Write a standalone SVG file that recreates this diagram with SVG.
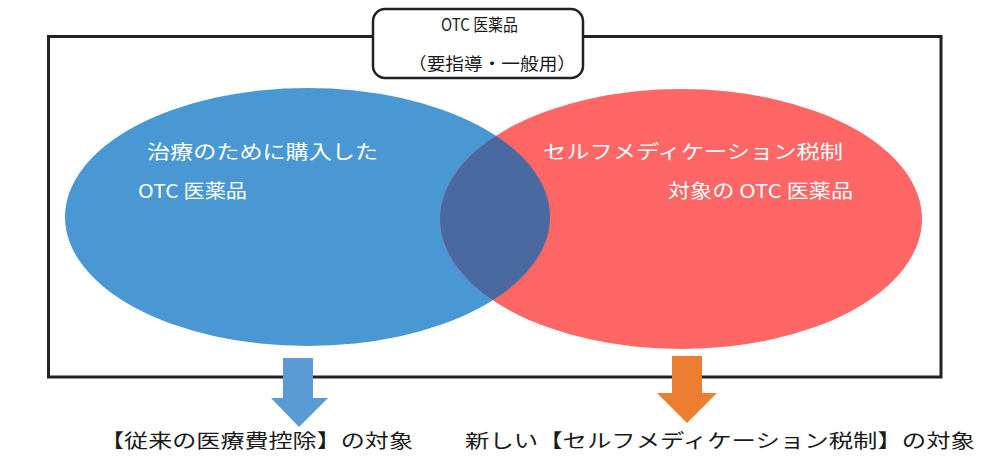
<svg xmlns="http://www.w3.org/2000/svg" width="999" height="470" viewBox="0 0 999 470">
<style>
.t{font-family:"Noto Sans CJK JP","Noto Sans CJK SC",sans-serif;}
.w{fill:#ffffff;font-size:19px;}
.k{fill:#1a1a1a;font-size:19px;}
.s{fill:#1a1a1a;font-size:17px;}
</style>
<defs>
<clipPath id="redclip"><ellipse cx="681" cy="219" rx="241" ry="130"/></clipPath>
</defs>
<rect x="48.5" y="36.5" width="892.5" height="340.5" fill="#ffffff" stroke="#222222" stroke-width="3"/>
<g id="blue-set">
<ellipse cx="307.5" cy="217" rx="242.5" ry="129" fill="#4a98d3"/>
</g>
<g id="red-set">
<ellipse cx="681" cy="219" rx="241" ry="130" fill="#ff6666"/>
</g>
<g id="overlap">
<ellipse cx="307.5" cy="217" rx="242.5" ry="129" fill="#4a69a1" clip-path="url(#redclip)"/>
</g>
<g id="label">
<rect x="373" y="9" width="210" height="69" rx="12" ry="12" fill="#ffffff" stroke="#222222" stroke-width="2.5"/>
<text class="t s" x="441" y="31" textLength="77" lengthAdjust="spacingAndGlyphs">OTC 医薬品</text>
<text class="t s" x="408" y="70" textLength="168" lengthAdjust="spacingAndGlyphs">（要指導・一般用）</text>
</g>
<g id="blue-text">
<text class="t w" x="147" y="159" textLength="231" lengthAdjust="spacingAndGlyphs">治療のために購入した</text>
<text class="t w" x="138" y="198" textLength="109" lengthAdjust="spacingAndGlyphs">OTC 医薬品</text>
</g>
<g id="red-text">
<text class="t w" x="543" y="159" textLength="300" lengthAdjust="spacingAndGlyphs">セルフメディケーション税制</text>
<text class="t w" x="668" y="198" textLength="185" lengthAdjust="spacingAndGlyphs">対象の OTC 医薬品</text>
</g>
<g id="connectors">
<polygon points="283,358 313,358 313,398 328,398 299,427 271,398 283,398" fill="#5b9bd5"/>
<polygon points="672,356 702,356 702,393 717,393 687,423 657,393 672,393" fill="#ed7d31"/>
</g>
<g id="bottom-left">
<text class="t k" x="100" y="448" textLength="313" lengthAdjust="spacingAndGlyphs">【従来の医療費控除】の対象</text>
</g>
<g id="bottom-right">
<text class="t k" x="465" y="448" textLength="510" lengthAdjust="spacingAndGlyphs">新しい【セルフメディケーション税制】の対象</text>
</g>
</svg>
